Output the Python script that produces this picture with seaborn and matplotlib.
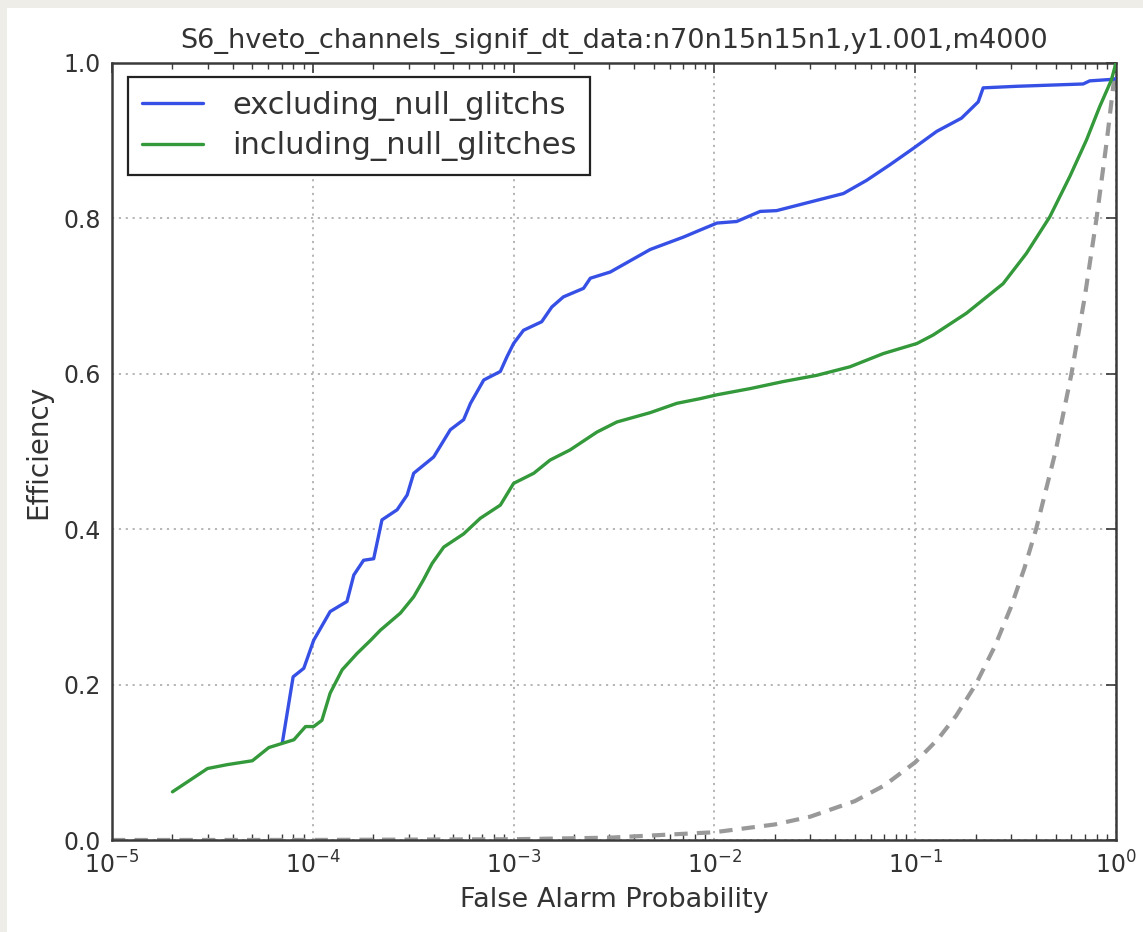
import numpy as np
import pandas as pd
import matplotlib
matplotlib.use("Agg")
import matplotlib.pyplot as plt
import seaborn as sns
from matplotlib.patches import Rectangle
from matplotlib.ticker import LogLocator, FixedLocator, FormatStrFormatter

# ---------------- data ----------------
title = "S6_hveto_channels_signif_dt_data:n70n15n15n1,y1.001,m4000"
x_label = "False Alarm Probability"
y_label = "Efficiency"
series_names = ["excluding_null_glitchs", "including_null_glitches"]

excl_fap = [7.05e-5, 7.98e-5, 9.02e-5, 1.01e-4, 1.22e-4, 1.48e-4, 1.60e-4, 1.79e-4,
            2.01e-4, 2.21e-4, 2.63e-4, 2.95e-4, 3.18e-4, 4.00e-4, 4.84e-4, 5.64e-4,
            6.10e-4, 7.10e-4, 8.59e-4, 9.27e-4, 1.00e-3, 1.12e-3, 1.38e-3, 1.55e-3,
            1.77e-3, 2.23e-3, 2.41e-3, 3.03e-3, 4.79e-3, 7.02e-3, 8.49e-3, 1.03e-2,
            1.29e-2, 1.69e-2, 2.04e-2, 2.99e-2, 4.39e-2, 5.73e-2, 7.48e-2, 9.77e-2,
            0.128, 0.170, 0.206, 0.218, 0.319, 0.686, 0.740, 0.966, 1.0]
excl_eff = [0.125, 0.210, 0.221, 0.257, 0.294, 0.307, 0.341, 0.360,
            0.362, 0.412, 0.425, 0.444, 0.472, 0.493, 0.528, 0.541,
            0.562, 0.592, 0.603, 0.622, 0.639, 0.656, 0.667, 0.686,
            0.699, 0.710, 0.723, 0.731, 0.760, 0.776, 0.785, 0.794,
            0.796, 0.809, 0.810, 0.821, 0.832, 0.849, 0.869, 0.890,
            0.912, 0.929, 0.950, 0.968, 0.970, 0.973, 0.977, 0.979, 0.980]

incl_fap = [2.0e-5, 2.99e-5, 3.75e-5, 5.0e-5, 6.04e-5, 8.05e-5, 9.20e-5, 1.01e-4,
            1.11e-4, 1.22e-4, 1.40e-4, 1.66e-4, 1.94e-4, 2.17e-4, 2.73e-4, 3.18e-4,
            3.56e-4, 3.93e-4, 4.49e-4, 5.64e-4, 6.82e-4, 8.59e-4, 1.00e-3, 1.26e-3,
            1.52e-3, 1.91e-3, 2.60e-3, 3.27e-3, 4.79e-3, 6.50e-3, 8.49e-3, 1.03e-2,
            1.51e-2, 2.20e-2, 3.23e-2, 4.73e-2, 6.93e-2, 0.102, 0.123, 0.180,
            0.274, 0.358, 0.468, 0.589, 0.713, 0.830, 0.948, 1.0]
incl_eff = [0.062, 0.092, 0.097, 0.102, 0.119, 0.129, 0.146, 0.146,
            0.154, 0.189, 0.219, 0.240, 0.257, 0.270, 0.292, 0.313,
            0.335, 0.356, 0.377, 0.394, 0.414, 0.431, 0.459, 0.472,
            0.489, 0.502, 0.525, 0.538, 0.550, 0.562, 0.568, 0.573,
            0.581, 0.590, 0.598, 0.609, 0.626, 0.639, 0.650, 0.678,
            0.716, 0.755, 0.802, 0.854, 0.901, 0.944, 0.978, 1.0]

chance_fap = [1e-5, 1e-4, 1e-3, 3e-3, 0.01, 0.02, 0.03, 0.05, 0.07, 0.1, 0.13, 0.16,
              0.2, 0.25, 0.3, 0.35, 0.4, 0.5, 0.6, 0.7, 0.8, 0.9, 1.0]
chance_eff = [1e-5, 1e-4, 1e-3, 3e-3, 0.01, 0.02, 0.03, 0.05, 0.07, 0.1, 0.13, 0.16,
              0.2, 0.25, 0.3, 0.35, 0.4, 0.5, 0.6, 0.7, 0.8, 0.9, 1.0]

y_ticks = [0.0, 0.2, 0.4, 0.6, 0.8, 1.0]

# ---------------- figure ----------------
sns.set_style("white")
plt.rcParams["font.family"] = ["DejaVu Sans"]
plt.rcParams["mathtext.default"] = "regular"

W, H, DPI = 1143, 932, 100
fig = plt.figure(figsize=(W / DPI, H / DPI), dpi=DPI, facecolor="#eeede8")
fig.patches.append(Rectangle((7 / W, 0), 1 - 7 / W, 1 - 8 / H, transform=fig.transFigure,
                             facecolor="white", edgecolor="none", zorder=-10))
ax = fig.add_axes([112 / W, 1 - 840 / H, (1116 - 112) / W, (840 - 63) / H])

df_excl = pd.DataFrame({"fap": excl_fap, "eff": excl_eff})
df_incl = pd.DataFrame({"fap": incl_fap, "eff": incl_eff})
df_chance = pd.DataFrame({"fap": chance_fap, "eff": chance_eff})

ax.set_xscale("log")
sns.lineplot(data=df_chance, x="fap", y="eff", ax=ax, color="#999999", lw=3,
             linestyle=(0, (3.2, 2.2)), estimator=None, sort=False, zorder=2)
sns.lineplot(data=df_excl, x="fap", y="eff", ax=ax, color="#3650e6", lw=2.4,
             estimator=None, sort=False, label=series_names[0], zorder=3)
sns.lineplot(data=df_incl, x="fap", y="eff", ax=ax, color="#33993a", lw=2.4,
             estimator=None, sort=False, label=series_names[1], zorder=3)

ax.set_xlim(1e-5, 1.0)
ax.set_ylim(0.0, 1.0)
ax.yaxis.set_major_locator(FixedLocator(y_ticks))
ax.yaxis.set_major_formatter(FormatStrFormatter("%.1f"))
ax.xaxis.set_major_locator(LogLocator(base=10, numticks=10))
ax.xaxis.set_minor_locator(LogLocator(base=10, subs=np.arange(2, 10), numticks=20))

ax.grid(True, which="major", color="#b0b0b0", linestyle=(0, (1.2, 2.6)), lw=1.3)
ax.set_axisbelow(True)

for sp in ax.spines.values():
    sp.set_color("#3a3a3a")
    sp.set_linewidth(1.8)
    sp.set_visible(True)

ax.tick_params(axis="both", which="major", direction="in", length=7, width=1.2,
               top=True, right=True, colors="#3a3a3a", labelsize=17, pad=8,
               labelcolor="#333333")
ax.tick_params(axis="x", which="minor", direction="in", length=4, width=1.0,
               top=True, bottom=True, colors="#3a3a3a")

ax.set_title(title, fontsize=19.5, color="#333333", pad=11)
ax.set_xlabel(x_label, fontsize=19.5, color="#333333", labelpad=6)
ax.set_ylabel(y_label, fontsize=20, color="#333333", labelpad=8)

leg = ax.legend(loc="upper left", bbox_to_anchor=(0.016, 0.982), fontsize=22,
                frameon=True, fancybox=False, borderpad=0.45, handlelength=2.0,
                handletextpad=0.95, labelspacing=0.35, borderaxespad=0)
leg.get_frame().set_edgecolor("#222222")
leg.get_frame().set_linewidth(1.6)
leg.get_frame().set_alpha(1)
for t in leg.get_texts():
    t.set_color("#333333")

fig.savefig("out.png", dpi=DPI, facecolor=fig.get_facecolor())
